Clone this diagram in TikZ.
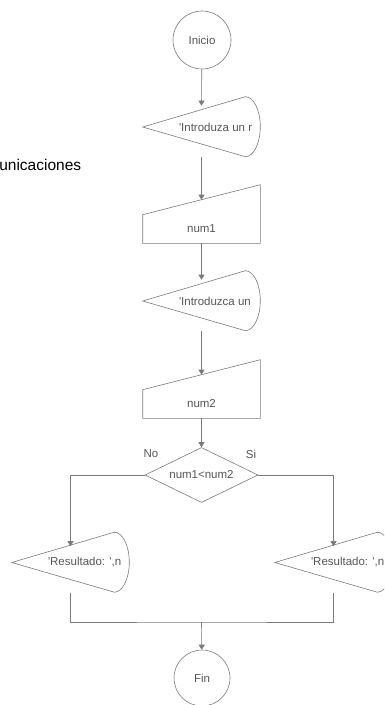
\documentclass[tikz,border=0pt]{standalone}
\usepackage{fontspec}
\setmainfont{Liberation Sans}
\usetikzlibrary{shapes.geometric}
\usetikzlibrary{arrows.meta}
\definecolor{linegray}{HTML}{7A7A7A}
\definecolor{textgray}{HTML}{555555}
\newcommand{\flowfont}{\fontsize{11.5}{13}\selectfont}
\tikzstyle{terminal} = [circle, minimum size=58pt, inner sep=0pt, draw=linegray, text=textgray, font=\flowfont]
\tikzstyle{display} = [rectangle, minimum width=117pt, minimum height=60pt, inner sep=0pt, append after command={\pgfextra{\draw[linegray] (\tikzlastnode.west) -- ([xshift=-15pt]\tikzlastnode.north east) arc[start angle=90, end angle=-90, x radius=15pt, y radius=30pt] -- cycle;}}]
\tikzstyle{disptext} = [anchor=west, xshift=36pt, inner sep=0pt, text=textgray, font=\flowfont]
\tikzstyle{manual} = [rectangle, minimum width=117pt, minimum height=28pt, inner sep=0pt, text=textgray, font=\flowfont, append after command={\pgfextra{\draw[linegray] (\tikzlastnode.north west) -- ([yshift=30pt]\tikzlastnode.north east) -- (\tikzlastnode.south east) -- (\tikzlastnode.south west) -- cycle;}}]
\tikzstyle{decision} = [diamond, aspect=2, minimum width=113pt, minimum height=55pt, inner sep=0pt, draw=linegray, text=textgray, font=\flowfont]
\tikzstyle{branch} = [inner sep=0pt, text=textgray, font=\flowfont]

\begin{document}
\begin{tikzpicture}[x=1pt, y=1pt, line width=0.6pt, >={Triangle[length=5pt,width=6pt]}]

    \useasboundingbox (0,0) rectangle (384,-705);
    \clip (0,0) rectangle (384,-705);

    % side text, cut at the border
    \node(title)[anchor=west, inner sep=0pt, font=\fontsize{15.5}{18}\selectfont] at (-1,-165) {unicaciones};

    % main column
    \node(inicio)[terminal] at (202,-40) {Inicio};
    \node(d1)[display, label={[disptext]west:{\textquotesingle Introduza un r}}] at (201.5,-127) {};
    \node(num1)[manual] at (201.5,-229) {num1};
    \node(d2)[display, label={[disptext]west:{\textquotesingle Introduzca un}}] at (201.5,-301) {};
    \node(num2)[manual] at (201.5,-404) {num2};
    \node(dec)[decision] at (201.5,-475) {num1<num2};
    \node(no)[branch] at (151,-454) {No};
    \node(si)[branch] at (251,-454) {Si};

    % the two outputs
    \node(d3)[display, label={[disptext]west:{\textquotesingle Resultado: \textquotesingle,n}}] at (70.5,-562.5) {};
    \node(d4)[display, label={[disptext]west:{\textquotesingle Resultado: \textquotesingle,n}}] at (333.5,-562.5) {};

    \coordinate(join) at (201.5,-622);
    \node(fin)[terminal, minimum size=56pt] at (202,-678) {Fin};

    \draw[->, draw=linegray] (inicio) -- ([yshift=-9pt]d1.north);
    \draw[->, draw=linegray] (d1.south) -- ([yshift=15pt]num1.north);
    \draw[->, draw=linegray] (num1.south) -- ([yshift=-9pt]d2.north);
    \draw[->, draw=linegray] (d2.south) -- ([yshift=15pt]num2.north);
    \draw[->, draw=linegray] (num2.south) -- (dec.north);
    \draw[->, draw=linegray] (dec.west) -| ([yshift=-14pt]d3.north);
    \draw[->, draw=linegray] (dec.east) -| ([yshift=-14pt]d4.north);

    \draw[draw=linegray] (d3.south) |- (join) -| (d4.south);
    \draw[->, draw=linegray] (join) -- (fin);

\end{tikzpicture}
\end{document}
